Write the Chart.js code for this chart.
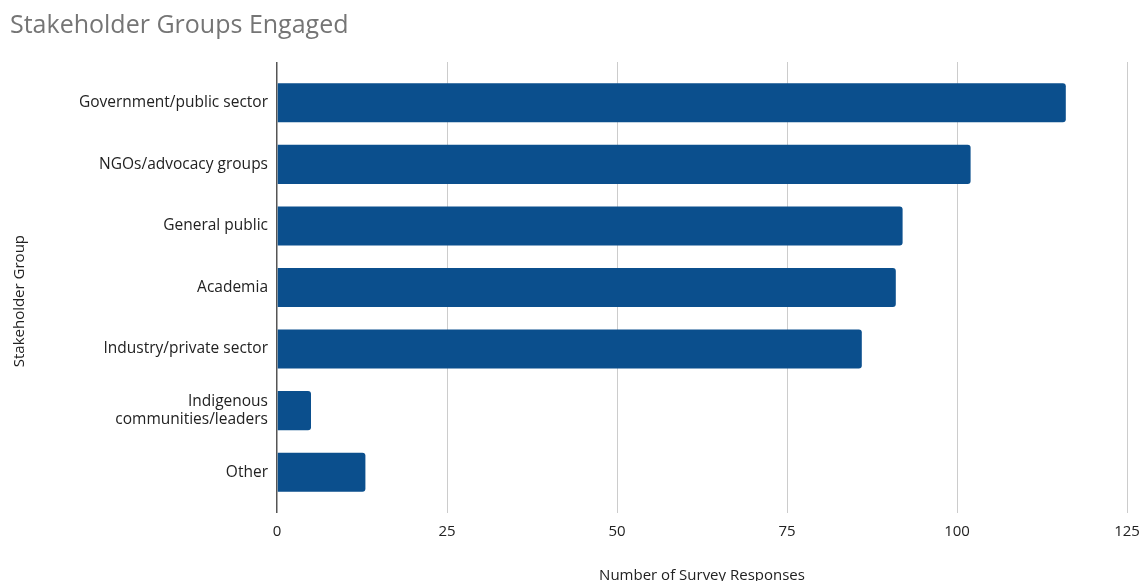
<!DOCTYPE html>
<html>
<head>
<meta charset="utf-8">
<script src="https://cdn.jsdelivr.net/npm/chart.js@4/dist/chart.umd.min.js"></script>
<style>
  html, body { margin: 0; padding: 0; background: #ffffff; }
  #wrap { width: 1141px; height: 581px; }
</style>
</head>
<body>
<div id="wrap"><canvas id="chart" width="1141" height="581"></canvas></div>
<script>
// Survey responses by stakeholder group
const groups = [
  'Government/public sector',
  'NGOs/advocacy groups',
  'General public',
  'Academia',
  'Industry/private sector',
  ['Indigenous', 'communities/leaders'],
  'Other'
];
const responses = [116, 102, 92, 91, 86, 5, 13];
const xTicks = [0, 25, 50, 75, 100, 125];

const FONT = "'Open Sans', 'DejaVu Sans', sans-serif";
const gridColor = (ctx) => (ctx.tick && ctx.tick.value === 0) ? '#555555' : '#cccccc';
const gridWidth = (ctx) => (ctx.tick && ctx.tick.value === 0) ? 1.5 : 1;
// keep edge tick labels from shrinking the plot area
const noEdgePadding = (scale) => { scale.paddingLeft = 0; scale.paddingRight = 0; };

new Chart(document.getElementById('chart'), {
  type: 'bar',
  data: {
    labels: groups,
    datasets: [{
      label: 'Number of Survey Responses',
      data: responses,
      backgroundColor: '#0b4f8d',
      borderRadius: 3,
      borderSkipped: 'start',
      categoryPercentage: 1,
      barPercentage: 0.635
    }]
  },
  options: {
    indexAxis: 'y',
    responsive: false,
    animation: false,
    layout: { padding: { left: 10, right: 14, top: 0, bottom: -4 } },
    plugins: {
      legend: { display: false },
      tooltip: { enabled: false },
      title: {
        display: true,
        text: 'Stakeholder Groups Engaged',
        align: 'start',
        color: '#757575',
        font: { family: FONT, size: 25, weight: 'normal' },
        padding: { top: 11, bottom: 21 }
      }
    },
    scales: {
      x: {
        type: 'linear',
        position: 'bottom',
        min: xTicks[0],
        max: xTicks[xTicks.length - 1],
        afterBuildTicks: (scale) => { scale.ticks = xTicks.map(v => ({ value: v })); },
        afterFit: noEdgePadding,
        border: { display: false },
        grid: { color: gridColor, lineWidth: gridWidth, tickLength: 10, drawTicks: true },
        ticks: { color: '#222222', font: { family: FONT, size: 15 }, padding: 9.5 },
        title: {
          display: true,
          text: 'Number of Survey Responses',
          color: '#222222',
          font: { family: FONT, size: 15 },
          padding: { top: 17, bottom: 0 }
        }
      },
      xTop: {
        type: 'linear',
        position: 'top',
        axis: 'x',
        min: xTicks[0],
        max: xTicks[xTicks.length - 1],
        afterBuildTicks: (scale) => { scale.ticks = xTicks.map(v => ({ value: v })); },
        afterFit: noEdgePadding,
        border: { display: false },
        grid: { color: gridColor, lineWidth: gridWidth, tickLength: 10, drawTicks: true, drawOnChartArea: false },
        ticks: { display: false }
      },
      y: {
        border: { display: false },
        grid: { display: false, drawTicks: false },
        ticks: { color: '#222222', font: { family: FONT, size: 15.5 }, padding: 9 },
        afterFit: (scale) => { scale.width = 267; },
        title: {
          display: true,
          text: 'Stakeholder Group       ',
          color: '#222222',
          font: { family: FONT, size: 15 },
          padding: { top: 1, bottom: 0 }
        }
      }
    }
  }
});
</script>
</body>
</html>
